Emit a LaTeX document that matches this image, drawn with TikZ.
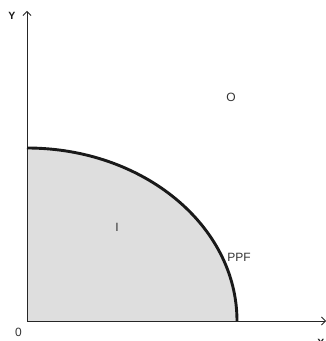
\documentclass[tikz,border=0pt]{standalone}
\usepackage{fontspec}
\setmainfont{Liberation Sans}
\usetikzlibrary{arrows.meta}
\begin{document}
\begin{tikzpicture}[x=1pt,y=1pt, every node/.style={font=\fontsize{12}{14}\selectfont, text=black!80, inner sep=0pt},
  axislabel/.style={font=\fontsize{10.5}{12}\selectfont\bfseries, text=black!90},
  axis/.style={line width=0.8pt, black!85, -{Straight Barb[length=4pt,width=8pt]}}]
\useasboundingbox (0,0) rectangle (326,341);
\coordinate (origin) at (27,20);
\coordinate (xend) at (326,20);
\coordinate (yend) at (27,330);
\coordinate (ytop) at (27,193);
\fill[black!13] (origin) -- (ytop) arc[start angle=90,end angle=0,x radius=210,y radius=173] -- cycle;
\draw[axis] (origin) -- (xend);
\draw[axis] (origin) -- (yend);
\draw[line width=2.9pt, black!90] (ytop) arc[start angle=90,end angle=0,x radius=210,y radius=173];
\node[axislabel] (ylabel) at (12,325) {Y};
\node[axislabel] (xlabel) at (321,-1.5) {X};
\node (zero) at (18.5,8.5) {0};
\node (outside) at (231,244) {O};
\node (inside) at (117,114) {I};
\node (ppf) at (239,84) {PPF};
\end{tikzpicture}
\end{document}
